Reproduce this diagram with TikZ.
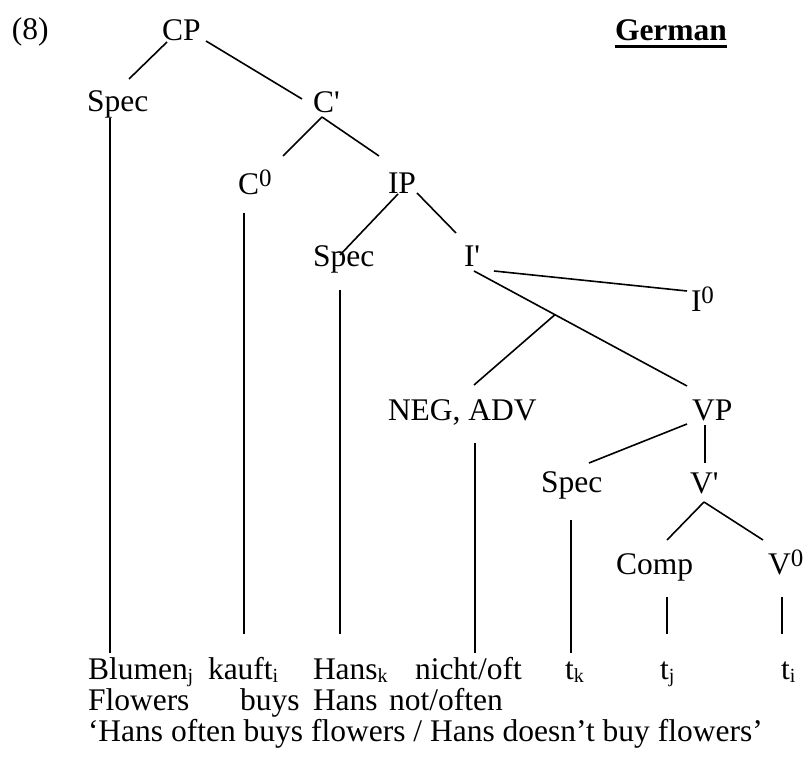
\documentclass[tikz,border=0pt]{standalone}
\usepackage{fontspec}
\setmainfont{Liberation Serif}[Ligatures=TeXOff]
\usetikzlibrary{calc}
\newcommand\zsup{\raisebox{8pt}{\fontsize{25}{25}\selectfont 0}}
\newcommand\zsub[1]{\raisebox{-2.5pt}{\fontsize{20}{20}\selectfont #1}}
\begin{document}
\begin{tikzpicture}[x=1pt,y=1pt,
  lbl/.style={anchor=base west, inner sep=0pt, outer sep=0pt, font=\fontsize{31.5}{36}\selectfont},
  branch/.style={line width=1.6pt}]
\fill[white] (0,0) rectangle (806,760);
\useasboundingbox (0,0) rectangle (806,760);
% labels
\node[lbl] (num) at (12,720) {(8)};
\node[lbl] (CP) at (162,719) {CP};
\node[lbl,font=\fontsize{31.5}{36}\selectfont\bfseries] (German) at (615,719) {German};
\node[lbl] (SpecA) at (87,648) {Spec};
\node[lbl] (Cbar) at (313,647) {C'};
\node[lbl] (Czero) at (238,565) {C\zsup};
\node[lbl] (IP) at (388,566) {IP};
\node[lbl] (SpecB) at (313,493) {Spec};
\node[lbl] (Ibar) at (464,493) {I'};
\node[lbl] (Izero) at (691,448) {I\zsup};
\node[lbl] (NEG) at (388,339) {NEG, ADV};
\node[lbl] (VP) at (692,339) {VP};
\node[lbl] (SpecC) at (541,267) {Spec};
\node[lbl] (Vbar) at (690,266) {V'};
\node[lbl] (Comp) at (616,185) {Comp};
\node[lbl] (Vzero) at (768,185) {V\zsup};
% words
\node[lbl] (wA) at (88,80) {Blumen\zsub{j}};
\node[lbl] (wB) at (208,80) {kauft\zsub{i}};
\node[lbl] (wC) at (313,80) {Hans\zsub{k}};
\node[lbl] (wD) at (415,80) {nicht/oft};
\node[lbl] (wE) at (565,80) {t\zsub{k}};
\node[lbl] (wF) at (660,80) {t\zsub{j}};
\node[lbl] (wG) at (781,80) {t\zsub{i}};
\node[lbl] (gA) at (88,49) {Flowers};
\node[lbl] (gB) at (240,49) {buys};
\node[lbl] (gC) at (313,49) {Hans};
\node[lbl] (gD) at (389,49) {not/often};
\node[lbl] (tr) at (88,18) {‘Hans often buys flowers / Hans doesn’t buy flowers’};
% underline
\draw[line width=3pt] ([shift={(0,-5.5)}]German.base west) -- ([shift={(0,-5.5)}]German.base east);
% branches
\draw[branch] ([shift={(5,-1)}]CP.base west) -- ([shift={(42,33)}]SpecA.base west);
\draw[branch] ([shift={(44,0)}]CP.base west) -- ([shift={(-11,14)}]Cbar.base west);
\draw[branch] ([shift={(9,-4)}]Cbar.base west) -- ([shift={(45,39)}]Czero.base west);
\draw[branch] ([shift={(9,-4)}]Cbar.base west) -- ([shift={(-9,38)}]IP.base west);
\draw[branch] ([shift={(10,0)}]IP.base west) -- ([shift={(27,12)}]SpecB.base west);
\draw[branch] ([shift={(29,1)}]IP.base west) -- ([shift={(-8,34)}]Ibar.base west);
\draw[branch] ([shift={(30,-4)}]Ibar.base west) -- ([shift={(-4,21)}]Izero.base west);
\draw[branch] ([shift={(10,-4)}]Ibar.base west) -- ([shift={(-5,35)}]VP.base west);
\coordinate (negtop) at ($([shift={(10,-4)}]Ibar.base west)!0.38!([shift={(-5,35)}]VP.base west)$);
\draw[branch] (negtop) -- ([shift={(86,36)}]NEG.base west);
\draw[branch] ([shift={(-5,-3)}]VP.base west) -- ([shift={(48,30)}]SpecC.base west);
\draw[branch] ([shift={(13,-4)}]VP.base west) -- ([shift={(15,31)}]Vbar.base west);
\draw[branch] ([shift={(14,-8)}]Vbar.base west) -- ([shift={(51,35)}]Comp.base west);
\draw[branch] ([shift={(14,-8)}]Vbar.base west) -- ([shift={(-5,35)}]Vzero.base west);
% vertical lines to words
\draw[branch] ([shift={(23,-6)}]SpecA.base west) -- ([shift={(22,27)}]wA.base west);
\draw[branch] ([shift={(6,-18)}]Czero.base west) -- ([shift={(36,46)}]wB.base west);
\draw[branch] ([shift={(27,-23)}]SpecB.base west) -- ([shift={(27,46)}]wC.base west);
\draw[branch] ([shift={(87,-22)}]NEG.base west) -- ([shift={(60,27)}]wD.base west);
\draw[branch] ([shift={(30,-27)}]SpecC.base west) -- ([shift={(6,27)}]wE.base west);
\draw[branch] ([shift={(51,-22)}]Comp.base west) -- ([shift={(7,46)}]wF.base west);
\draw[branch] ([shift={(14,-22)}]Vzero.base west) -- ([shift={(1,46)}]wG.base west);
\end{tikzpicture}
\end{document}
